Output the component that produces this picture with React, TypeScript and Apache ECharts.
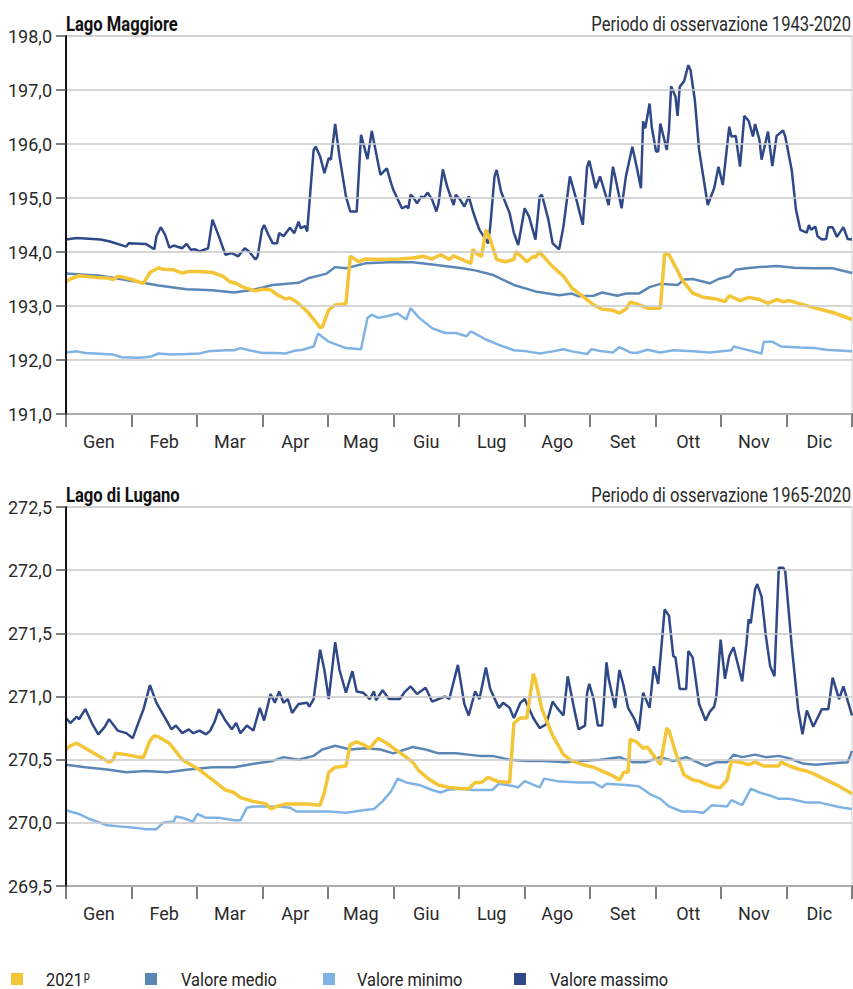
import React, { useEffect, useRef } from "react";
import * as echarts from "echarts";

const MONTHS = ["Gen", "Feb", "Mar", "Apr", "Mag", "Giu", "Lug", "Ago", "Set", "Ott", "Nov", "Dic"];
const FONT = "Roboto, 'Liberation Sans', sans-serif";

// ---------- Lago Maggiore (day of year, level m s.l.m.) ----------
const MAG_2021_D = [0, 2, 6, 14, 19, 22, 24, 30, 34, 36, 39, 43, 45, 50, 54, 57, 62, 68, 73, 76, 79, 82, 88, 91, 95, 98, 102, 104, 107, 112, 116, 118, 119, 122, 125, 130, 132, 136, 139, 146, 155, 161, 166, 170, 174, 178, 180, 184, 188, 189, 191, 193, 195, 197, 200, 204, 208, 209, 214, 217, 218, 220, 221, 226, 231, 235, 240, 245, 249, 254, 257, 260, 262, 265, 270, 276, 278, 280, 283, 286, 291, 296, 302, 306, 308, 313, 317, 322, 326, 330, 333, 336, 341, 348, 356, 361, 365];
const MAG_2021_V = [193.45, 193.5, 193.56, 193.53, 193.52, 193.49, 193.55, 193.5, 193.44, 193.42, 193.62, 193.71, 193.68, 193.67, 193.61, 193.64, 193.64, 193.62, 193.55, 193.45, 193.42, 193.35, 193.28, 193.31, 193.3, 193.21, 193.13, 193.15, 193.08, 192.9, 192.7, 192.6, 192.61, 192.93, 193.02, 193.04, 193.92, 193.82, 193.87, 193.86, 193.87, 193.89, 193.92, 193.87, 193.95, 193.86, 193.93, 193.86, 193.79, 194.05, 193.96, 193.92, 194.41, 194.23, 193.86, 193.82, 193.86, 194.01, 193.82, 193.92, 193.9, 194.01, 193.95, 193.73, 193.55, 193.33, 193.18, 193.02, 192.94, 192.92, 192.87, 192.94, 193.07, 193.04, 192.96, 192.96, 193.97, 193.95, 193.73, 193.49, 193.24, 193.16, 193.13, 193.08, 193.19, 193.1, 193.16, 193.12, 193.05, 193.12, 193.08, 193.1, 193.04, 192.96, 192.88, 192.81, 192.75];

const MAG_MEAN_D = [0, 16, 37, 43, 56, 68, 78, 87, 96, 108, 113, 121, 125, 130, 139, 150, 161, 172, 184, 190, 198, 208, 218, 229, 235, 238, 245, 249, 256, 260, 266, 271, 276, 284, 287, 291, 299, 303, 308, 311, 316, 322, 330, 338, 347, 356, 365];
const MAG_MEAN_V = [193.6, 193.56, 193.42, 193.38, 193.31, 193.29, 193.25, 193.3, 193.39, 193.43, 193.52, 193.6, 193.72, 193.7, 193.79, 193.81, 193.81, 193.76, 193.7, 193.66, 193.58, 193.39, 193.27, 193.2, 193.23, 193.18, 193.19, 193.25, 193.19, 193.23, 193.23, 193.35, 193.41, 193.39, 193.49, 193.5, 193.42, 193.5, 193.55, 193.67, 193.7, 193.72, 193.74, 193.71, 193.7, 193.7, 193.61];

const MAG_MIN_D = [0, 5, 9, 22, 26, 33, 37, 40, 43, 49, 56, 62, 66, 74, 78, 81, 85, 91, 97, 102, 106, 110, 115, 117, 122, 130, 137, 140, 142, 145, 149, 154, 158, 160, 164, 170, 176, 181, 186, 188, 195, 201, 208, 214, 220, 226, 231, 235, 242, 244, 249, 254, 257, 262, 265, 270, 276, 282, 291, 299, 309, 310, 313, 323, 324, 328, 332, 341, 348, 353, 365];
const MAG_MIN_V = [192.14, 192.16, 192.13, 192.1, 192.05, 192.04, 192.05, 192.07, 192.12, 192.1, 192.11, 192.12, 192.16, 192.18, 192.18, 192.22, 192.18, 192.13, 192.13, 192.12, 192.17, 192.19, 192.25, 192.49, 192.34, 192.22, 192.2, 192.78, 192.84, 192.78, 192.81, 192.86, 192.75, 192.96, 192.78, 192.59, 192.5, 192.5, 192.44, 192.53, 192.38, 192.28, 192.18, 192.16, 192.12, 192.16, 192.2, 192.16, 192.11, 192.2, 192.16, 192.14, 192.24, 192.14, 192.13, 192.19, 192.14, 192.18, 192.16, 192.14, 192.18, 192.25, 192.22, 192.12, 192.34, 192.34, 192.25, 192.23, 192.22, 192.19, 192.16];

const MAG_MAX_D = [0, 5, 16, 20, 28, 29, 37, 41, 42, 44, 46, 48, 50, 54, 56, 58, 60, 62, 66, 68, 71, 74, 77, 80, 83, 85, 88, 89, 91, 92, 94, 96, 98, 99, 101, 104, 106, 108, 109, 111, 112, 115, 116, 118, 120, 122, 123, 125, 127, 130, 132, 135, 137, 140, 142, 146, 149, 151, 152, 156, 158, 159, 160, 161, 163, 165, 166, 168, 170, 172, 173, 175, 177, 180, 181, 183, 185, 187, 189, 190, 192, 194, 196, 197, 199, 200, 202, 206, 208, 210, 213, 215, 218, 220, 221, 224, 226, 229, 231, 234, 237, 240, 242, 243, 246, 248, 252, 254, 255, 258, 260, 263, 265, 267, 268, 269, 271, 272, 274, 275, 276, 279, 280, 281, 283, 284, 285, 287, 289, 290, 292, 294, 298, 301, 303, 305, 308, 309, 311, 313, 315, 317, 319, 320, 322, 323, 326, 328, 330, 333, 334, 337, 339, 341, 344, 345, 346, 348, 349, 351, 353, 354, 356, 358, 361, 363, 365];
const MAG_MAX_V = [194.23, 194.26, 194.23, 194.2, 194.1, 194.16, 194.15, 194.05, 194.29, 194.46, 194.32, 194.08, 194.12, 194.07, 194.15, 194.04, 194.05, 194.01, 194.07, 194.6, 194.29, 193.95, 193.98, 193.92, 194.07, 194.01, 193.86, 193.92, 194.41, 194.5, 194.32, 194.16, 194.16, 194.35, 194.29, 194.45, 194.35, 194.56, 194.44, 194.48, 194.38, 195.89, 195.95, 195.77, 195.46, 195.74, 195.71, 196.37, 195.77, 195.03, 194.75, 194.75, 196.17, 195.72, 196.24, 195.43, 195.55, 195.27, 195.15, 194.81, 194.85, 194.81, 195.06, 195.03, 194.9, 195.03, 195.0, 195.1, 194.97, 194.75, 194.9, 195.53, 195.21, 194.87, 195.06, 194.97, 194.84, 195.03, 194.75, 194.63, 194.41, 194.29, 194.16, 194.47, 195.4, 195.52, 195.12, 194.72, 194.35, 194.13, 194.81, 194.66, 194.23, 195.03, 195.06, 194.6, 194.16, 194.05, 194.47, 195.4, 194.97, 194.5, 195.58, 195.69, 195.18, 195.4, 194.87, 195.58, 195.4, 194.81, 195.4, 195.95, 195.58, 195.18, 196.42, 196.29, 196.75, 196.32, 195.86, 195.86, 196.38, 195.89, 196.26, 197.07, 196.88, 196.52, 197.06, 197.16, 197.46, 197.37, 196.82, 195.89, 194.87, 195.18, 195.58, 195.24, 196.32, 196.14, 196.15, 195.58, 196.52, 196.43, 196.14, 196.37, 196.08, 195.71, 196.23, 195.59, 196.15, 196.25, 196.14, 195.52, 194.78, 194.41, 194.36, 194.5, 194.41, 194.47, 194.29, 194.23, 194.24, 194.46, 194.46, 194.28, 194.46, 194.24, 194.23];

// ---------- Lago di Lugano ----------
const LUG_2021_D = [0, 2, 5, 9, 14, 20, 22, 23, 28, 34, 36, 39, 41, 43, 48, 54, 62, 68, 74, 78, 81, 87, 93, 95, 98, 102, 112, 118, 120, 122, 125, 130, 132, 135, 138, 141, 145, 149, 153, 158, 161, 164, 169, 173, 178, 184, 187, 190, 193, 196, 200, 206, 208, 211, 214, 217, 218, 221, 226, 231, 235, 240, 245, 249, 253, 257, 259, 261, 262, 265, 268, 270, 273, 276, 279, 280, 283, 287, 291, 294, 298, 302, 304, 307, 309, 313, 317, 320, 324, 331, 332, 336, 341, 344, 347, 353, 359, 365];
const LUG_2021_V = [270.58, 270.61, 270.63, 270.59, 270.54, 270.48, 270.5, 270.55, 270.54, 270.52, 270.52, 270.65, 270.69, 270.68, 270.63, 270.5, 270.42, 270.34, 270.26, 270.24, 270.2, 270.17, 270.15, 270.11, 270.13, 270.15, 270.15, 270.14, 270.24, 270.4, 270.44, 270.45, 270.62, 270.64, 270.62, 270.59, 270.67, 270.63, 270.58, 270.52, 270.48, 270.41, 270.34, 270.3, 270.28, 270.27, 270.27, 270.32, 270.32, 270.36, 270.33, 270.32, 270.79, 270.83, 270.83, 271.18, 271.13, 270.9, 270.69, 270.54, 270.49, 270.46, 270.44, 270.41, 270.38, 270.34, 270.4, 270.4, 270.66, 270.64, 270.59, 270.6, 270.53, 270.46, 270.75, 270.73, 270.56, 270.38, 270.34, 270.33, 270.3, 270.28, 270.28, 270.34, 270.49, 270.48, 270.46, 270.48, 270.45, 270.45, 270.48, 270.45, 270.42, 270.41, 270.39, 270.34, 270.29, 270.23];

const LUG_MEAN_D = [0, 9, 20, 28, 37, 47, 56, 68, 78, 88, 96, 101, 108, 115, 119, 125, 132, 139, 146, 152, 161, 167, 173, 181, 192, 198, 206, 214, 222, 232, 238, 248, 257, 263, 269, 276, 282, 288, 297, 302, 307, 310, 314, 320, 325, 331, 336, 342, 348, 355, 363, 365];
const LUG_MEAN_V = [270.46, 270.44, 270.42, 270.4, 270.41, 270.4, 270.42, 270.44, 270.44, 270.47, 270.49, 270.52, 270.5, 270.53, 270.58, 270.61, 270.58, 270.59, 270.58, 270.55, 270.6, 270.58, 270.55, 270.55, 270.53, 270.53, 270.5, 270.49, 270.49, 270.48, 270.49, 270.5, 270.52, 270.48, 270.48, 270.52, 270.49, 270.52, 270.45, 270.48, 270.48, 270.54, 270.52, 270.54, 270.52, 270.53, 270.51, 270.47, 270.46, 270.47, 270.48, 270.57];

const LUG_MIN_D = [0, 6, 11, 16, 19, 26, 33, 37, 42, 45, 50, 51, 54, 59, 61, 65, 71, 78, 81, 84, 87, 93, 99, 104, 107, 113, 122, 130, 138, 143, 147, 151, 154, 158, 164, 170, 174, 177, 183, 189, 198, 201, 208, 210, 213, 220, 222, 228, 238, 245, 249, 251, 260, 266, 271, 276, 280, 286, 291, 296, 300, 307, 309, 314, 318, 322, 328, 331, 336, 344, 350, 358, 361, 365];
const LUG_MIN_V = [270.1, 270.07, 270.03, 270.0, 269.98, 269.97, 269.96, 269.95, 269.95, 270.0, 270.01, 270.05, 270.04, 270.01, 270.07, 270.04, 270.04, 270.02, 270.02, 270.12, 270.13, 270.13, 270.13, 270.12, 270.09, 270.09, 270.09, 270.08, 270.1, 270.11, 270.17, 270.25, 270.35, 270.32, 270.3, 270.26, 270.24, 270.26, 270.27, 270.26, 270.26, 270.31, 270.29, 270.28, 270.33, 270.28, 270.35, 270.33, 270.32, 270.32, 270.28, 270.31, 270.3, 270.29, 270.23, 270.19, 270.13, 270.09, 270.09, 270.08, 270.14, 270.13, 270.18, 270.14, 270.27, 270.24, 270.21, 270.19, 270.19, 270.16, 270.16, 270.13, 270.12, 270.11];

const LUG_MAX_D = [0, 2, 5, 6, 9, 12, 15, 18, 20, 24, 28, 31, 34, 36, 39, 42, 46, 49, 51, 54, 57, 59, 62, 65, 67, 69, 71, 74, 77, 79, 81, 84, 87, 90, 92, 95, 97, 99, 101, 103, 105, 108, 112, 113, 115, 118, 120, 122, 125, 127, 130, 133, 135, 138, 141, 143, 144, 147, 150, 155, 157, 160, 163, 167, 170, 176, 178, 182, 185, 187, 190, 192, 195, 197, 201, 203, 206, 208, 211, 213, 217, 220, 223, 226, 228, 231, 233, 236, 238, 241, 242, 243, 245, 247, 249, 251, 252, 255, 257, 259, 261, 264, 266, 268, 271, 273, 275, 278, 280, 282, 283, 285, 288, 289, 291, 294, 297, 299, 301, 302, 304, 306, 308, 310, 314, 316, 317, 318, 320, 321, 323, 325, 327, 329, 331, 333, 334, 337, 340, 342, 344, 347, 351, 354, 356, 359, 361, 365];
const LUG_MAX_V = [270.83, 270.79, 270.84, 270.82, 270.9, 270.79, 270.7, 270.76, 270.82, 270.73, 270.71, 270.67, 270.81, 270.9, 271.09, 270.95, 270.83, 270.74, 270.77, 270.71, 270.74, 270.71, 270.73, 270.7, 270.73, 270.8, 270.9, 270.81, 270.74, 270.79, 270.71, 270.77, 270.73, 270.91, 270.81, 271.02, 270.95, 271.04, 270.95, 270.98, 270.87, 270.94, 270.95, 270.92, 270.98, 271.37, 271.21, 270.98, 271.43, 271.21, 271.03, 271.2, 271.04, 271.03, 270.98, 271.04, 270.97, 271.05, 270.98, 270.98, 271.03, 271.08, 271.02, 271.07, 270.96, 271.0, 270.98, 271.25, 270.94, 270.85, 271.04, 270.98, 271.23, 271.06, 270.91, 270.95, 270.91, 270.83, 270.95, 270.98, 270.83, 270.75, 270.78, 270.96, 270.91, 270.85, 271.16, 270.9, 270.74, 270.77, 271.03, 271.1, 270.98, 270.77, 270.77, 271.27, 271.14, 270.91, 271.21, 271.08, 270.91, 270.82, 270.73, 271.03, 270.91, 271.24, 271.1, 271.69, 271.64, 271.32, 271.31, 271.06, 271.06, 271.36, 271.31, 270.94, 270.81, 270.88, 270.92, 271.0, 271.45, 271.14, 271.32, 271.39, 271.12, 271.42, 271.61, 271.58, 271.85, 271.89, 271.79, 271.48, 271.24, 271.16, 272.02, 272.02, 271.99, 271.4, 270.9, 270.7, 270.89, 270.76, 270.9, 270.9, 271.15, 270.98, 271.08, 270.85];

const SERIES_NAMES = ["2021", "Valore medio", "Valore minimo", "Valore massimo"];
const COLORS = ["#F3C537", "#5B87B6", "#7EB3E3", "#2F4888"];
const TITLES = ["Lago Maggiore", "Lago di Lugano"];
const PERIODS = ["Periodo di osservazione 1943-2020", "Periodo di osservazione 1965-2020"];

const pairs = (d: number[], v: number[]) => d.map((x, i) => [x, v[i]]);

export default function App() {
  const ref = useRef<HTMLDivElement>(null);
  useEffect(() => {
    document.body.style.margin = "0";
    if (!ref.current) return;
    const chart = echarts.init(ref.current, null, { renderer: "svg" });
    const grids = [
      { left: 66, right: 1, top: 36, height: 378 },
      { left: 66, right: 1, top: 507, height: 379 },
    ];
    const yRanges = [
      { min: 191, max: 198, interval: 1 },
      { min: 269.5, max: 272.5, interval: 0.5 },
    ];
    const data = [
      [pairs(MAG_2021_D, MAG_2021_V), pairs(MAG_MEAN_D, MAG_MEAN_V), pairs(MAG_MIN_D, MAG_MIN_V), pairs(MAG_MAX_D, MAG_MAX_V)],
      [pairs(LUG_2021_D, LUG_2021_V), pairs(LUG_MEAN_D, LUG_MEAN_V), pairs(LUG_MIN_D, LUG_MIN_V), pairs(LUG_MAX_D, LUG_MAX_V)],
    ];
    const xAxis: any[] = [];
    const yAxis: any[] = [];
    const series: any[] = [];
    grids.forEach((_, gi) => {
      xAxis.push({
        type: "category",
        gridIndex: gi,
        data: MONTHS,
        boundaryGap: true,
        axisLine: { lineStyle: { color: "#555", width: 2 } },
        axisTick: { show: true, length: 13, lineStyle: { color: "#555", width: 1.5 } },
        axisLabel: { fontSize: 18, color: "#2a2a2a", margin: 18, fontFamily: FONT },
        splitLine: { show: false },
        z: 5,
      });
      xAxis.push({ type: "value", gridIndex: gi, min: 0, max: 365, show: false });
      yAxis.push({
        type: "value",
        gridIndex: gi,
        min: yRanges[gi].min,
        max: yRanges[gi].max,
        interval: yRanges[gi].interval,
        axisLine: { show: true, lineStyle: { color: "#111", width: 2 } },
        axisTick: { show: true, length: 10, lineStyle: { color: "#555", width: 1.5 } },
        axisLabel: {
          fontSize: 18,
          color: "#2a2a2a",
          margin: 14,
          fontFamily: FONT,
          formatter: (v: number) => v.toFixed(1).replace(".", ","),
        },
        splitLine: { show: true, lineStyle: { color: "#c8c8c8", width: 1.5 } },
        z: 6,
      });
      const order = [1, 2, 3, 0];
      order.forEach((si) => {
        series.push({
          type: "line",
          name: SERIES_NAMES[si],
          xAxisIndex: gi * 2 + 1,
          yAxisIndex: gi,
          data: data[gi][si],
          showSymbol: false,
          symbol: "none",
          lineStyle: { color: COLORS[si], width: si === 0 ? 3.5 : 2.5 },
          itemStyle: { color: COLORS[si] },
          z: si === 0 ? 4 : 3,
        });
      });
    });

    const graphic: any[] = [];
    // titles (condensed look via horizontal scale)
    const titleY = [23.5, 495.3];
    TITLES.forEach((t, i) => {
      graphic.push({
        type: "text",
        x: 66,
        y: titleY[i],
        scaleX: 0.83,
        style: { text: t, fontSize: 20, fontWeight: "bold", fontFamily: FONT, fill: "#111", verticalAlign: "middle", align: "left" },
      });
      graphic.push({
        type: "text",
        x: 851,
        y: titleY[i],
        scaleX: 0.83,
        style: { text: PERIODS[i], fontSize: 20, fontFamily: FONT, fill: "#2a2a2a", verticalAlign: "middle", align: "right" },
      });
    });

    const legendX = [11, 145, 323, 514];
    const legendTextX = [46, 181, 357, 550];
    SERIES_NAMES.forEach((n, i) => {
      graphic.push({ type: "rect", x: legendX[i], y: 973, shape: { width: 12, height: 12 }, style: { fill: COLORS[i] } });
      graphic.push({
        type: "text",
        x: legendTextX[i],
        y: 980,
        scaleX: 0.91,
        style: {
          text: i === 0 ? "{a|2021}{b|p}" : n,
          fill: "#222",
          fontSize: 18,
          fontFamily: FONT,
          verticalAlign: "middle",
          align: "left",
          rich: {
            a: { fontSize: 18, fontFamily: FONT, fill: "#222" },
            b: { fontSize: 12, fontFamily: FONT, fill: "#222", padding: [0, 0, 9, 1] },
          },
        },
      });
    });

    chart.setOption({
      animation: false,
      backgroundColor: "#fff",
      grid: grids.map((g) => ({ ...g, show: true, borderColor: "#cfcfcf", borderWidth: 1, backgroundColor: "transparent" })),
      xAxis,
      yAxis,
      series,
      graphic,
    });
    return () => chart.dispose();
  }, []);
  return <div ref={ref} style={{ width: 853, height: 989 }} />;
}
